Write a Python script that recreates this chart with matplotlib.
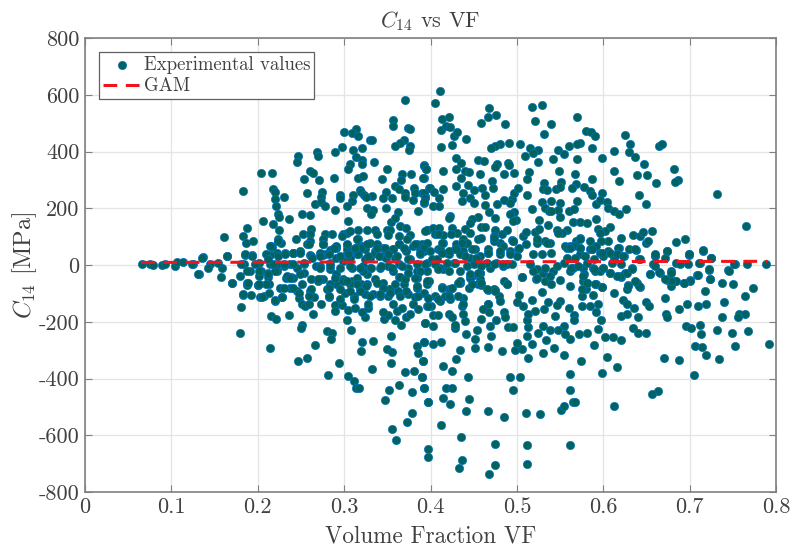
import matplotlib
matplotlib.use('Agg')
import matplotlib.pyplot as plt

plt.rcParams['font.family'] = ['cmr10', 'DejaVu Serif']
plt.rcParams['mathtext.fontset'] = 'cm'
plt.rcParams['axes.formatter.use_mathtext'] = True

# values, one pair of lists per part of the plot
vf_upper_left = [.3705,.357,.357,.374,.376,.300,.314,.309,.316,.330,.332,.369,.365,.359,.376,.375,.297,.289,.310,.321,
    .269,.270,.247,.246,.314,.321,.321,.335,.307,.305,.393,.395,.350,.261,.264,.204,.217,.254,.271,.288,
    .316,.322,.344,.367,.377,.366,.392,.359,.364,.381,.398,.318,.183,.218,.220,.274,.257,.230,.295,.295,
    .310,.320,.323,.332,.325,.349,.345,.355,.370,.370,.382,.390,.394,.380,.392,.220,.221,.273,.266,.273,
    .278,.309,.303,.289,.326,.333,.331,.349,.362,.385,.224,.225,.236,.251,.261,.206,.305,.354,.359,.218,
    .365,.372,.188,.225,.262,.396,.161,.183,.186,.194,.224,.227,.215,.244,.252,.261,.261,.278,.286,.276,
    .276,.299,.303,.297,.307,.316,.327,.336,.338,.350,.353,.351,.364,.376,.373,.364,.390,.316,.330,.316,
    .303,.291,.284,.241,.249,.222,.214,.261,.276,.185,.193,.164,.137,.372,.392,.380,.345,.336,.324,.311,
    .303,.357]
c14_upper_left = [581,511,490,482,480,470,479,464,453,441,439,439,429,418,418,404,415,400,406,412,
    397,385,385,363,380,371,356,363,356,338,351,339,339,330,324,325,325,302,300,305,
    307,312,302,319,319,298,305,277,269,271,271,266,262,268,259,259,252,240,247,236,
    247,256,246,242,239,259,236,235,254,240,254,254,242,230,219,233,207,239,215,221,
    207,227,207,194,200,193,180,201,188,191,178,170,163,179,175,154,154,151,166,143,
    137,131,129,122,128,123,97,101,76,85,92,76,67,90,108,111,84,111,108,90,
    73,111,113,102,119,122,125,123,110,123,123,104,102,104,90,73,73,90,76,67,
    69,62,53,43,47,43,37,34,37,37,34,32,29,53,49,67,61,49,55,49,
    43,55]

vf_upper_right = [.411,.405,.413,.421,.412,.418,.423,.427,.431,.441,.412,.425,.468,.467,.476,.458,.486,.517,.529,.521,
    .540,.531,.570,.580,.586,.590,.625,.631,.630,.664,.668,.613,.587,.573,.570,.560,.548,.555,.542,.525,
    .515,.519,.509,.524,.504,.491,.481,.475,.470,.570,.599,.637,.647,.682,.430,.435,.430,.440,.445,.455,
    .462,.457,.393,.395,.414,.435,.391,.477,.475,.490,.491,.485,.497,.514,.512,.549,.567,.587,.613,.618,
    .639,.651,.661,.686,.683,.471,.472,.430,.443,.460,.450,.415,.399,.404,.392,.410,.394,.392,.403,.410,
    .438,.436,.446,.450,.463,.463,.468,.477,.485,.494,.492,.497,.501,.512,.517,.531,.530,.535,.545,.551,
    .550,.568,.564,.578,.585,.587,.598,.592,.596,.604,.606,.612,.618,.626,.641,.650,.732,.765,.570,.529,
    .540,.550,.532,.537,.548,.540,.560,.566,.550,.497,.492,.475,.499,.496,.422,.421,.526,.565,.573,.581,
    .592,.536,.425,.455,.448,.446,.459,.463,.440,.431,.396,.403,.410,.405,.414,.414,.475,.489,.473,.483,
    .446,.438,.455,.494,.507,.511,.521,.526,.523,.533,.538,.546,.558,.552,.548,.594,.608,.602,.596,.621,
    .634,.643,.646,.657,.650,.652,.684,.695,.716,.699,.674,.660,.725,.618,.630,.638,.606,.597,.585,.587,
    .573,.569,.556,.561,.573,.540,.606,.596,.480,.492,.501,.467,.452,.438,.428,.419,.409,.396,.388,.612,
    .624,.641,.610,.620,.589,.600,.660,.672,.699,.725]
c14_upper_right = [613,571,515,521,476,490,488,453,468,443,415,422,552,523,530,500,497,558,565,507,
    498,461,523,473,469,453,459,427,400,420,426,401,412,429,427,418,407,391,374,406,
    414,394,385,363,425,431,426,420,412,374,376,379,357,337,377,359,337,333,328,369,
    367,322,350,338,333,307,305,356,347,358,353,319,325,326,303,330,319,302,332,297,
    317,317,289,301,292,296,270,278,283,271,263,269,271,256,254,236,236,221,207,209,
    252,225,236,219,245,211,188,215,230,233,219,252,271,248,198,290,269,266,269,293,
    274,284,271,276,262,246,252,216,230,221,201,190,178,198,248,215,249,139,227,221,
    225,219,201,192,193,192,190,199,170,187,181,164,158,156,174,164,157,152,153,149,
    163,140,132,170,163,149,135,135,128,113,122,131,131,108,105,78,125,122,102,108,
    113,90,92,88,102,117,116,128,76,84,78,125,125,113,113,128,135,119,113,96,
    105,102,117,119,78,84,80,90,51,40,49,37,26,61,58,53,84,84,84,55,
    96,84,67,67,61,43,49,43,78,49,55,55,55,67,55,43,55,78,55,26,
    32,20,8,2,20,32,32,26,37,23]

vf_lower_left = [.125,.132,.170,.187,.183,.192,.181,.179,.200,.203,.207,.213,.213,.212,.220,.215,.221,.214,.236,.226,
    .228,.233,.239,.237,.246,.248,.251,.255,.259,.251,.251,.250,.264,.273,.265,.261,.270,.276,.280,.283,
    .289,.289,.297,.304,.313,.303,.308,.280,.286,.285,.266,.247,.257,.294,.281,.305,.311,.314,.317,.321,
    .333,.320,.332,.347,.352,.350,.355,.354,.354,.364,.370,.381,.390,.379,.393,.397,.379,.373,.355,.360,
    .384,.392,.386,.391,.394,.366,.359,.346,.351,.345,.324,.321,.328,.328,.361,.367,.372,.376,.380,.385,
    .396,.357,.342,.351,.362,.374,.382,.392,.396,.385,.364,.353,.345,.336,.320,.309,.299,.291,.301,.311,
    .324,.334]
c14_lower_left = [2,-33,-64,-70,-104,-105,-147,-238,-70,-112,-111,-97,-68,-44,-126,-179,-191,-291,-175,-82,
    -112,-47,-44,-80,-91,-115,-136,-144,-138,-68,-211,-222,-174,-137,-112,-91,-56,-50,-85,-112,
    -142,-161,-140,-159,-150,-194,-229,-233,-239,-261,-282,-339,-329,-346,-387,-390,-410,-433,-432,-271,
    -267,-302,-366,-477,-440,-296,-305,-249,-346,-424,-378,-373,-394,-449,-432,-482,-521,-552,-578,-617,
    -284,-273,-310,-339,-205,-213,-193,-191,-177,-164,-183,-164,-150,-138,-161,-150,-185,-171,-138,-156,
    -144,-138,-109,-109,-91,-103,-112,-97,-68,-27,-42,-85,-62,-50,-68,-56,-50,-68,-97,-109,
    -103,-103]

vf_lower_right = [.506,.522,.533,.540,.550,.562,.577,.581,.580,.592,.599,.613,.588,.575,.623,.627,.636,.620,.628,.640,
    .650,.653,.672,.673,.674,.688,.697,.710,.719,.718,.738,.750,.773,.764,.740,.737,.757,.756,.764,.768,
    .749,.732,.752,.734,.792,.719,.706,.714,.713,.712,.696,.702,.705,.688,.670,.663,.657,.612,.616,.599,
    .604,.589,.574,.555,.543,.530,.513,.498,.506,.500,.517,.534,.525,.512,.562,.556,.555,.548,.538,.530,
    .513,.512,.572,.581,.594,.602,.611,.621,.635,.640,.650,.597,.592,.594,.585,.575,.566,.566,.544,.560,
    .550,.546,.531,.536,.521,.517,.513,.507,.500,.503,.529,.485,.489,.457,.446,.459,.467,.475,.479,.480,
    .485,.486,.490,.495,.467,.461,.468,.459,.454,.469,.476,.470,.452,.451,.467,.483,.434,.430,.414,.425,
    .443,.441,.440,.428,.428,.438,.437,.438,.444,.434,.413,.421,.417,.423,.411,.405,.401,.397,.403,.409,
    .421,.425,.394,.403,.392,.403,.412,.391,.390,.393,.397,.414,.418,.425,.423,.444,.441,.466,.485,.492,
    .504,.495,.510,.527,.551,.555,.565,.567,.562,.561,.412,.435,.475,.512,.562,.397,.397,.436,.433,.475,
    .468,.512,.654,.666,.674,.678,.683,.693,.700,.709,.724,.722,.745,.752,.766,.788,.698,.712,.679,.658,
    .629,.639,.643,.627,.620,.625,.633,.608,.600,.590,.577,.562,.523,.530]
c14_lower_right = [-42,-50,-56,-68,-54,-75,-56,-62,-85,-66,-76,-99,-106,-109,-123,-136,-150,-180,-171,-185,
    -130,-144,-117,-171,-183,-156,-138,-144,-136,-91,-64,-66,-80,-110,-130,-185,-171,-183,-171,-232,
    -241,-230,-287,-333,-280,-317,-284,-288,-243,-213,-214,-221,-388,-335,-326,-443,-456,-498,-361,-380,
    -325,-281,-337,-317,-294,-311,-326,-300,-295,-276,-278,-263,-240,-250,-260,-243,-214,-228,-229,-214,
    -220,-193,-243,-238,-227,-255,-255,-264,-223,-241,-241,-193,-164,-138,-144,-146,-177,-193,-181,-153,
    -126,-140,-156,-130,-161,-124,-171,-144,-129,-106,-95,-56,-66,-27,-39,-70,-89,-88,-109,-126,
    -164,-183,-220,-219,-138,-156,-167,-191,-229,-214,-194,-249,-261,-294,-289,-304,-300,-332,-355,-374,
    -393,-243,-199,-222,-212,-173,-144,-115,-80,-62,-77,-85,-109,-121,-126,-109,-144,-144,-176,-176,
    -173,-183,-205,-214,-273,-277,-271,-340,-395,-432,-482,-468,-434,-433,-489,-473,-515,-514,-535,-394,
    -395,-442,-523,-525,-512,-496,-483,-482,-385,-439,-564,-607,-632,-633,-634,-648,-676,-687,-716,-704,
    -737,-703,-33,-27,-54,-74,-56,-62,-54,-36,-48,-18,-19,2,2,5,5,6,-21,2,
    -70,-62,-76,-85,-42,-27,-12,-27,-9,-21,-9,-21,-15,-27]

vf_band_left = [.066,.075,.079,.089,.093,.104,.106,.114,.124,.131,.136,.145,.142,.158,.159,.164,.154,.170,.179,.185,
    .193,.184,.191,.187,.200,.201,.210,.212,.222,.214,.224,.216,.224,.210,.234,.241,.232,.241,.249,.253,
    .230,.245,.262,.272,.268,.262,.278,.284,.291,.299,.291,.299,.309,.315,.322,.322,.330,.326,.315,.284,
    .307,.318,.272,.257,.276,.253,.237,.222,.204,.202,.284,.303,.272,.291,.307]
c14_band_left = [2,2,0,0,2,-4,11,11,2,-31,26,2,-9,-41,-9,32,8,-62,-39,38,
    32,2,-21,-62,-70,8,-68,-27,-21,2,32,63,85,38,-39,-45,43,43,49,2,
    -4,-9,-51,-51,-4,32,38,-15,61,14,-33,-56,-9,38,-4,67,26,-33,-45,-68,
    -68,-80,43,73,73,-27,2,2,-21,-39,8,55,-4,26,26]

vf_band_right = [.320,.324,.322,.330,.336,.338,.345,.342,.351,.357,.363,.359,.357,.365,.372,.374,.384,.388,.392,.384,
    .384,.396,.396,.402,.411,.413,.421,.427,.415,.430,.442,.438,.446,.434,.448,.457,.457,.467,.473,.480,
    .484,.469,.484,.496,.500,.502,.511,.519,.523,.529,.535,.533,.542,.538,.558,.565,.558,.573,.573,.585,
    .592,.588,.578,.581,.596,.519,.523,.506,.488,.473,.446,.457,.455,.434,.423,.326,.353,.369,.384,.398,
    .411,.363,.349,.376,.407,.434,.450,.465,.476,.488,.515,.546,.554,.565,.581]
c14_band_right = [61,20,-21,-9,43,73,32,-9,-4,55,73,26,-21,-42,49,-9,73,38,61,-21,
    -45,-21,8,20,55,79,38,8,-15,73,79,49,26,-21,-39,-27,32,43,85,38,
    67,-9,-4,85,32,61,73,38,90,38,79,-9,-21,-39,61,67,26,90,38,55,
    67,-9,-33,-62,-21,-21,-45,-42,-68,-86,-45,-51,-68,-56,-86,-68,-86,-68,-80,-56,
    -9,2,26,20,20,38,2,8,8,2,2,-4,8,-9,8]

# second pass over the dense middle, from closer crops
vf_dense_a = [.181,.187,.197,.201,.189,.201,.212,.220,.218,.212,.214,.224,.232,.241,.249,.230,.241,.253,.237,.230,
    .241,.249,.259,.263,.272,.282,.291,.303,.295,.305,.315,.316,.326,.328,.338,.347,.340,.351,.361,.369,
    .272,.284,.295,.307,.318,.331,.343,.355,.367,.289,.303,.315,.325,.338,.345,.359,.370,.282,.295,.307,
    .318,.330,.342,.353,.365,.372,.282,.295,.311,.270,.262,.259,.248,.183,.205,.220,.228,.288,.313]
c14_dense_a = [2,-21,2,-21,-62,-68,-33,-21,2,20,67,85,38,43,43,2,2,8,-45,-80,
    -80,-33,73,26,32,38,67,73,32,38,90,38,73,32,61,61,32,38,32,61,
    -9,-4,-9,-4,-9,-9,-4,-9,-4,-45,-56,-68,-75,-62,-80,-68,-51,-80,-86,-92,
    -92,-109,-103,-98,-109,-92,-109,-121,-121,-51,-86,-109,-98,-103,-113,-125,-113,61,61]

vf_dense_b = [.374,.384,.388,.399,.394,.405,.413,.421,.419,.430,.428,.440,.448,.442,.453,.459,.467,.473,.480,.484,
    .494,.492,.374,.382,.396,.384,.388,.413,.409,.421,.432,.446,.448,.425,.421,.409,.397,.386,.455,.459,
    .432,.438,.467,.475,.465,.382,.394,.409,.424,.437,.459,.473,.496]
c14_dense_b = [20,2,43,49,2,2,43,49,8,55,8,32,55,-4,26,-4,43,2,49,2,
    2,38,-27,-45,-56,-74,-21,-80,-15,-21,-62,-33,-68,-80,-109,-121,-115,-109,-27,-62,
    -109,-139,-139,-92,-86,73,120,108,108,79,96,96,85]

vf_dense_c = [.562,.573,.567,.579,.587,.598,.608,.617,.616,.623,.637,.643,.660,.674,.684,.699,.716,.725,.711,.751,
    .746,.724,.722,.710,.701,.693,.684,.678,.672,.679,.689,.665,.654,.660,.619,.616,.627,.633,.600,.608,
    .589,.577,.581,.575,.590,.598,.563,.571,.629,.641,.637]
c14_dense_c = [61,61,26,32,55,43,43,61,38,32,55,20,38,49,8,40,52,26,8,5,
    -21,-51,-15,-35,-56,-62,-56,-56,-51,-27,2,-25,-33,-4,-39,-39,-27,-15,-9,-27,
    -15,-39,-62,-86,-68,-78,-9,-4,-74,-74,-56]

vf_gam = [0.065, 0.79]
c14_gam = [9, 13]

x_ticks = [0, 0.1, 0.2, 0.3, 0.4, 0.5, 0.6, 0.7, 0.8]
x_tick_labels = ['0', '0.1', '0.2', '0.3', '0.4', '0.5', '0.6', '0.7', '0.8']
y_ticks = [-800, -600, -400, -200, 0, 200, 400, 600, 800]
y_tick_labels = ['-800', '-600', '-400', '-200', '0', '200', '400', '600', '800']

vf = (vf_upper_left + vf_upper_right + vf_lower_left + vf_lower_right
      + vf_band_left + vf_band_right + vf_dense_a + vf_dense_b + vf_dense_c)
c14 = (c14_upper_left + c14_upper_right + c14_lower_left + c14_lower_right
       + c14_band_left + c14_band_right + c14_dense_a + c14_dense_b + c14_dense_c)

text_color = '#404040'

fig = plt.figure(figsize=(8.01, 5.47), dpi=100)
ax = fig.add_axes([85 / 801, 1 - 492 / 547, 691 / 801, 454 / 547])

ax.scatter(vf, c14, s=35, color='#00635F', edgecolors='#0072BD', linewidths=0.5,
           label='Experimental values', zorder=3)
ax.plot(vf_gam, c14_gam, color='#F0141E', linestyle='--', linewidth=2.2, dashes=(4.5, 2.8),
        label='GAM', zorder=4)

ax.set_xlim(0, 0.8)
ax.set_ylim(-800, 800)
ax.set_xticks(x_ticks)
ax.set_xticklabels(x_tick_labels)
ax.set_yticks(y_ticks)
ax.set_yticklabels(y_tick_labels)
ax.grid(True, color='#E4E4E4', linewidth=0.9, zorder=0)
ax.set_axisbelow(True)
ax.tick_params(direction='in', length=5, width=0.8, color='#808080', top=True, right=True,
               labelsize=16, labelcolor=text_color, pad=4)
for spine in ax.spines.values():
    spine.set_color('#808080')
    spine.set_linewidth(1.2)

ax.set_xlabel('Volume Fraction VF', fontsize=16.7, color=text_color, labelpad=6)
ax.set_ylabel(r'$C_{14}$ [MPa]', fontsize=17.5, color=text_color, labelpad=0)
ax.set_title(r'$C_{14}$ vs VF', fontsize=16, color=text_color, pad=8)

leg = ax.legend(loc='upper left', bbox_to_anchor=(14 / 691, 1 - 14 / 454), borderaxespad=0,
                fontsize=13.5, fancybox=False, framealpha=1, edgecolor='#606060',
                handlelength=2.0, handletextpad=0.2, labelspacing=0.2, borderpad=0.2)
leg.get_frame().set_linewidth(0.9)
for t in leg.get_texts():
    t.set_color(text_color)

fig.savefig('out.png', dpi=100)
print(len(vf), len(c14))
